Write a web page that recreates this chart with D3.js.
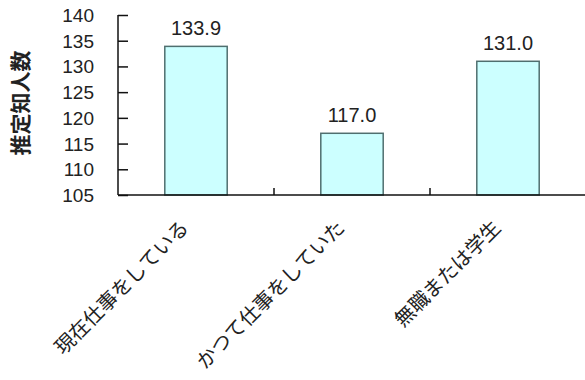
<!DOCTYPE html>
<html>
<head>
<meta charset="utf-8">
<script src="https://cdn.jsdelivr.net/npm/d3@7"></script>
<style>
  body { margin: 0; background: #fff; }
  svg { display: block; }
  .num { font-family: "Liberation Sans", Arial, sans-serif; fill: #222; }
  .jp { font-family: "Noto Sans CJK JP", sans-serif; fill: #222; }
</style>
</head>
<body>
<script>
// data
var categories = ['現在仕事をしている', 'かつて仕事をしていた', '無職または学生'];
var values = [133.9, 117.0, 131.0];
var yTicks = [105, 110, 115, 120, 125, 130, 135, 140];
var yTitle = '推定知人数';

var width = 585, height = 380;

var svg = d3.select('body').append('svg')
  .attr('width', width)
  .attr('height', height);

var x = d3.scaleBand()
  .domain(categories)
  .range([118, 586])
  .padding(0);

var y = d3.scaleLinear()
  .domain([105, 140])
  .range([195, 15]);

var step = x.step(),
  barW = step * 0.4;

// bars
svg.selectAll('rect.bar')
  .data(values)
  .enter().append('rect')
    .attr('class', 'bar')
    .attr('x', function(d, i){ return x(categories[i]) + (step - barW) / 2; })
    .attr('y', function(d){ return y(d); })
    .attr('width', barW)
    .attr('height', function(d){ return y(105) - y(d); })
    .style('fill', '#ccffff')
    .style('stroke', '#4f6f6f')
    .style('stroke-width', 1.5);

// value labels
svg.selectAll('text.val')
  .data(values)
  .enter().append('text')
    .attr('class', 'num val')
    .attr('x', function(d, i){ return x(categories[i]) + step / 2; })
    .attr('y', function(d){ return y(d) - 11; })
    .attr('text-anchor', 'middle')
    .style('font-size', '20px')
    .text(function(d){ return d.toFixed(1); });

// y axis
var yAxis = d3.axisRight(y)
  .tickValues(yTicks)
  .tickSize(10)
  .tickFormat('');

var gy = svg.append('g')
  .attr('transform', 'translate(118,0)')
  .call(yAxis);
gy.select('.domain').remove();
gy.selectAll('.tick line').style('stroke', '#111').style('stroke-width', 1.5);
gy.append('line')
  .attr('y1', y(140)).attr('y2', y(105))
  .style('stroke', '#111').style('stroke-width', 1.5);

svg.selectAll('text.ytick')
  .data(yTicks)
  .enter().append('text')
    .attr('class', 'num ytick')
    .attr('x', 94)
    .attr('y', function(d){ return y(d) + 7; })
    .attr('text-anchor', 'end')
    .style('font-size', '19px')
    .text(function(d){ return d; });

// x axis
svg.append('line')
  .attr('x1', 118).attr('x2', width)
  .attr('y1', y(105)).attr('y2', y(105))
  .style('stroke', '#111').style('stroke-width', 1.5);

svg.selectAll('line.xtick')
  .data(categories.slice(1))
  .enter().append('line')
    .attr('class', 'xtick')
    .attr('x1', function(d){ return x(d); })
    .attr('x2', function(d){ return x(d); })
    .attr('y1', y(105)).attr('y2', y(105) - 7)
    .style('stroke', '#111').style('stroke-width', 1.5);

// category labels
svg.selectAll('text.cat')
  .data(categories)
  .enter().append('text')
    .attr('class', 'jp cat')
    .attr('text-anchor', 'end')
    .attr('transform', function(d){
      return 'translate(' + (x(d) + step / 2 - 6) + ',229) rotate(-45)';
    })
    .style('font-size', '20px')
    .text(function(d){ return d; });

// y title
svg.append('text')
  .attr('class', 'jp')
  .attr('text-anchor', 'middle')
  .attr('transform', 'translate(28,103) rotate(-90)')
  .style('font-size', '21px')
  .style('font-weight', 'bold')
  .text(yTitle);
</script>
</body>
</html>
